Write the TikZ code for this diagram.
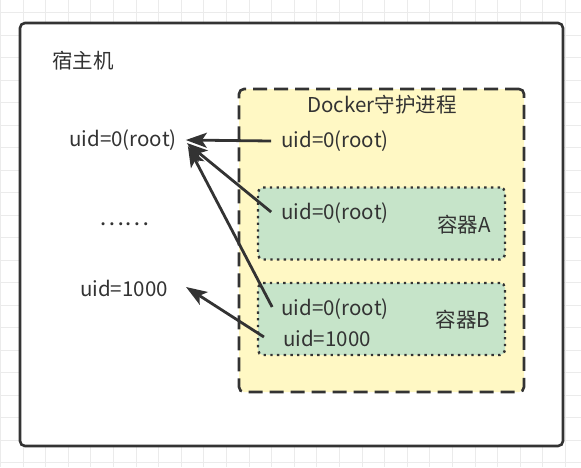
\documentclass[tikz,border=0pt]{standalone}
\usepackage{fontspec}
\setmainfont{Noto Sans CJK SC}
\usetikzlibrary{arrows.meta}
\definecolor{ink}{HTML}{333333}
\definecolor{gridc}{HTML}{EBEBEB}
\definecolor{yel}{HTML}{FFF8C4}
\definecolor{grn}{HTML}{C6E4C9}
\begin{document}
\begin{tikzpicture}[x=1pt,y=-1pt,
  every node/.style={font=\fontsize{20.5}{24}\selectfont, text=ink, inner sep=0pt},
  hostbox/.style={draw=ink, fill=white, line width=2.6pt, rounded corners=5pt, minimum width=543pt, minimum height=423pt},
  daemonbox/.style={draw=ink, fill=yel, line width=2.6pt, rounded corners=5pt, dash pattern=on 14pt off 7pt, minimum width=285pt, minimum height=303pt},
  ctbox/.style={draw=ink, fill=grn, line width=2.4pt, rounded corners=5pt, dash pattern=on 2.4pt off 4.3pt, minimum width=247pt, minimum height=72pt},
  arr/.style={draw=ink, line width=2.8pt, -{Stealth[length=21pt,width=15pt,inset=5pt]}}]
\useasboundingbox (0,0) rectangle (581,467);
\fill[white] (0,0) rectangle (581,467);
\foreach \i in {0,...,25} \draw[gridc, line width=0.9pt] ({0.4+22.6*\i},0) -- ({0.4+22.6*\i},467);
\foreach \i in {0,...,20} \draw[gridc, line width=0.9pt] (0,{12.8+22.5*\i}) -- (581,{12.8+22.5*\i});
% boxes
\node[hostbox] (host) at (291.5,234.5) {};
\node[daemonbox] (daemon) at (381.5,240.5) {};
\node[ctbox] (cta) at (381.5,223.5) {};
\node[ctbox] (ctb) at (381.5,319) {};
% texts
\node (hosttitle) at (83,61) {宿主机};
\node (hr) at (123,140) {uid=0(root)};
\node (dots) at (124,224) {\scalebox{1.15}[1.1]{……}};
\node (h1000) at (124,288) {uid=1000};
\node (dtitle) at (382,105) {Docker守护进程};
\node (dr) at (335,141) {uid=0(root)};
\node (ar) at (335,213) {uid=0(root)};
\node (alabel) at (464,225) {容器A};
\node (br) at (335,309) {uid=0(root)};
\node (b1000) at (327,338) {uid=1000};
\node (blabel) at (463,320) {容器B};
% arrows
\draw[arr] ([xshift=-10pt]dr.west) -- ([xshift=9pt]hr.east);
\draw[arr] ([xshift=-10pt,yshift=1pt]ar.west) -- ([xshift=10pt,yshift=-3pt]hr.east);
\draw[arr] ([xshift=-9pt,yshift=2pt]br.west) -- ([xshift=11pt,yshift=-6pt]hr.east);
\draw[arr] ([xshift=-19pt,yshift=1pt]b1000.west) -- ([xshift=18pt,yshift=1pt]h1000.east);
\end{tikzpicture}
\end{document}
